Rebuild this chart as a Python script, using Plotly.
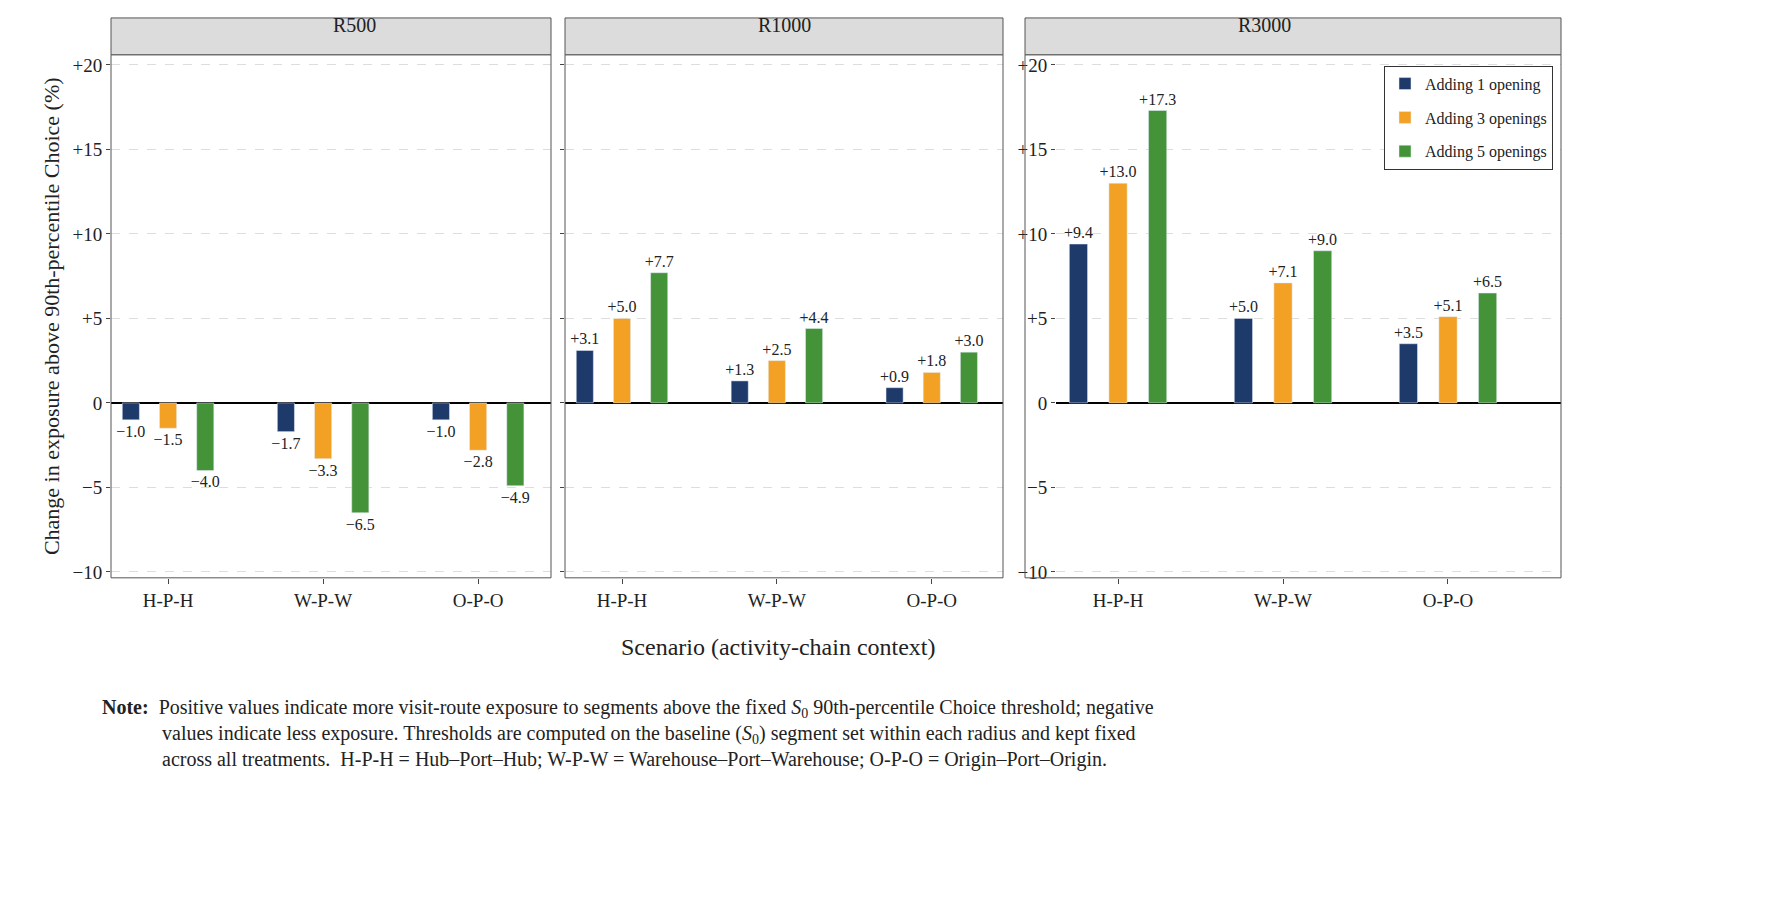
import plotly.graph_objects as go

radii = ["R500", "R1000", "R3000"]
scenarios = ["H-P-H", "W-P-W", "O-P-O"]
series = ["Adding 1 opening", "Adding 3 openings", "Adding 5 openings"]
colors = ["#1d3a6b", "#f2a124", "#449338"]
values = {
    "R500": [[-1.0, -1.7, -1.0], [-1.5, -3.3, -2.8], [-4.0, -6.5, -4.9]],
    "R1000": [[3.1, 1.3, 0.9], [5.0, 2.5, 1.8], [7.7, 4.4, 3.0]],
    "R3000": [[9.4, 5.0, 3.5], [13.0, 7.1, 5.1], [17.3, 9.0, 6.5]],
}
y_ticks = [-10, -5, 0, 5, 10, 15, 20]
y_labels = ["\u221210", "\u22125", "0", "+5", "+10", "+15", "+20"]

W, H = 1768, 900
def px(x): return x / W
def py(y): return 1 - y / H

# plot areas in pixels (left, right)
areas = [(103, 543), (557, 995), (1048, 1553)]
frames = [(103, 543), (557, 995), (1017, 1553)]
xranges = [[-0.368, 2.47], [-0.368, 2.46], [-0.376, 2.685]]
FONT = "Liberation Serif"

fig = go.Figure()
for p, r in enumerate(radii):
    for s in range(3):
        vals = values[r][s]
        fig.add_bar(
            x=[0, 1, 2], y=vals, name=series[s], marker_color=colors[s],
            text=[("+%.1f" % v) if v > 0 else ("\u2212%.1f" % -v) for v in vals],
            textposition="outside", constraintext="none", textangle=0,
            textfont=dict(size=16, family=FONT, color="#222"),
            cliponaxis=False, showlegend=(p == 2), legendgroup=series[s],
            xaxis="x" if p == 0 else "x%d" % (p + 1),
            yaxis="y" if p == 0 else "y%d" % (p + 1),
        )

lay = dict(
    width=W, height=H, plot_bgcolor="white", paper_bgcolor="white",
    margin=dict(l=0, r=0, t=0, b=0, pad=0), barmode="group",
    bargap=0.28, bargroupgap=0.54,
    font=dict(family=FONT, size=16, color="#222"),
    legend=dict(x=px(1545), y=py(58), xanchor="right", yanchor="top",
                bordercolor="#333", borderwidth=1, bgcolor="white",
                font=dict(size=16, family=FONT)),
)
shapes = []
annotations = []
for p in range(3):
    sfx = "" if p == 0 else str(p + 1)
    l, r = areas[p]
    lay["xaxis" + sfx] = dict(
        domain=[px(l), px(r)], range=xranges[p], tickvals=[0, 1, 2],
        ticktext=scenarios, ticks="outside", ticklen=5, showgrid=False,
        zeroline=False, anchor="y" + sfx, tickfont=dict(size=19),
    )
    lay["yaxis" + sfx] = dict(
        domain=[py(573), py(47)], range=[-10.35, 20.6], tickvals=y_ticks,
        ticktext=y_labels if p != 1 else [""] * 7, ticks="outside", ticklen=4,
        showgrid=True, gridcolor="#dddddd", griddash="dash", zeroline=True,
        zerolinecolor="black", zerolinewidth=1.5, anchor="x" + sfx,
        tickfont=dict(size=19),
    )
    fl, fr = frames[p]
    shapes.append(dict(type="rect", xref="paper", yref="paper", x0=px(fl), x1=px(fr),
                       y0=py(573), y1=py(47), line=dict(color="#555", width=1)))
    shapes.append(dict(type="rect", xref="paper", yref="paper", x0=px(fl), x1=px(fr),
                       y0=py(47), y1=py(10), fillcolor="#dcdcdc",
                       line=dict(color="#555", width=1)))
    annotations.append(dict(text=radii[p], xref="paper", yref="paper",
                            x=px((fl + fr) / 2), y=py(17), yanchor="middle",
                            showarrow=False, font=dict(size=20)))

lay["yaxis"]["title"] = dict(text="Change in exposure above 90th-percentile Choice (%)",
                             font=dict(size=22), standoff=6)
annotations.append(dict(text="Scenario (activity-chain context)", xref="paper", yref="paper",
                        x=px(770), y=py(643), yanchor="middle", showarrow=False,
                        font=dict(size=24)))
note = ("<b>Note:</b>  Positive values indicate more visit-route exposure to segments above the fixed "
        "<i>S</i><sub>0</sub> 90th-percentile Choice threshold; negative<br>"
        "            values indicate less exposure. Thresholds are computed on the baseline (<i>S</i><sub>0</sub>) "
        "segment set within each radius and kept fixed<br>"
        "            across all treatments.  H-P-H = Hub\u2013Port\u2013Hub; W-P-W = Warehouse\u2013Port\u2013Warehouse; "
        "O-P-O = Origin\u2013Port\u2013Origin.")
annotations.append(dict(text=note, xref="paper", yref="paper", x=px(92), y=py(690),
                        xanchor="left", yanchor="top", align="left", showarrow=False,
                        font=dict(size=20)))
lay["shapes"] = shapes
lay["annotations"] = annotations
fig.update_layout(**lay)
fig.write_html("out.html")
